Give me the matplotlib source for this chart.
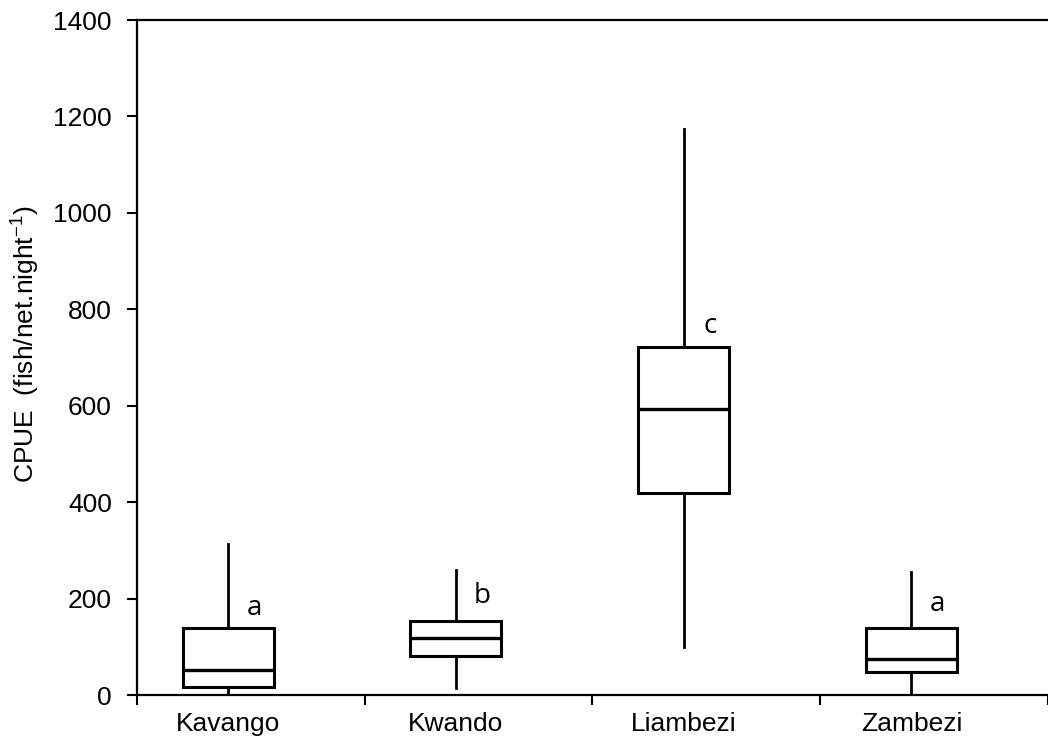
import matplotlib.pyplot as plt

# box plot stats
sites = ['Kavango', 'Kwando', 'Liambezi', 'Zambezi']
whislo = [2, 14, 100, 5]
q1 = [17, 80, 420, 47]
med = [51, 118, 594, 75]
q3 = [140, 153, 722, 138]
whishi = [313, 260, 1173, 255]
letters = ['a', 'b', 'c', 'a']
letter_y = [180, 205, 765, 188]

pos = [i + 0.4 for i in range(len(sites))]

fig = plt.figure(figsize=(10.48, 7.42), dpi=100)
ax = fig.add_axes([0.1307, 0.0633, 0.8693, 0.9097])

stats = []
for i, s in enumerate(sites):
    stats.append({'label': s, 'whislo': whislo[i], 'q1': q1[i], 'med': med[i],
                  'q3': q3[i], 'whishi': whishi[i], 'fliers': []})

ax.bxp(stats, positions=pos, widths=0.4, showcaps=False, showfliers=False,
       patch_artist=True,
       boxprops=dict(facecolor='white', edgecolor='black', linewidth=2.2),
       medianprops=dict(color='black', linewidth=2.4),
       whiskerprops=dict(color='black', linewidth=2.0))

for p, t, y in zip(pos, letters, letter_y):
    ax.text(p + 0.115, y, t, fontsize=20, family='Open Sans', ha='center', va='center')

ax.set_xlim(0, 4)
ax.set_ylim(0, 1400)
ax.set_yticks(range(0, 1401, 200))
ax.set_xticks([0, 1, 2, 3, 4])
ax.set_xticklabels([])
ax.set_xticks(pos, minor=True)
ax.set_xticklabels(sites, minor=True)
ax.tick_params(axis='x', which='minor', length=0, pad=12)
ax.tick_params(axis='x', which='major', length=7, width=1.5, direction='out')
ax.tick_params(axis='y', length=7, width=1.5, direction='out', pad=11)
for lab in ax.get_xticklabels(minor=True) + ax.get_yticklabels():
    lab.set_fontfamily('Liberation Sans')
    lab.set_fontsize(19)

for side in ['left', 'bottom', 'top']:
    ax.spines[side].set_linewidth(1.6)
ax.spines['right'].set_visible(False)

ax.set_ylabel(r'CPUE  (fish/net.night$^{\mathregular{-1}}$)', fontsize=19,
              family='Liberation Sans')
ax.yaxis.set_label_coords(-0.105, 0.52)

fig.savefig('out.png', dpi=100)
